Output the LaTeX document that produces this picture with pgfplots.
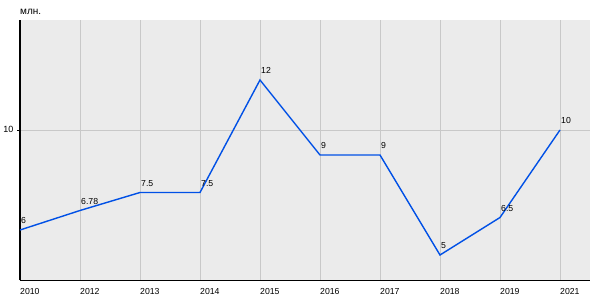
\documentclass[border=0pt]{standalone}
\usepackage{pgfplots}
\pgfplotsset{compat=1.18}
\usepackage{fontspec}
\setmainfont{Liberation Sans}
\definecolor{bgc}{RGB}{235,235,235}
\definecolor{gridc}{RGB}{200,200,200}
\definecolor{linec}{RGB}{0,80,230}
\begin{document}
\begin{tikzpicture}
\begin{axis}[
  name=ax,
  at={(0,0)}, anchor=south west,
  scale only axis,
  width=570pt, height=260pt,
  xmin=0, xmax=9.5,
  ymin=4, ymax=14.4,
  axis x line*=bottom,
  axis y line*=left,
  axis line style={black, line width=1pt, -},
  axis background/.style={fill=bgc},
  xtick={0,1,2,3,4,5,6,7,8,9},
  xticklabels={2010,2012,2013,2014,2015,2016,2017,2018,2019,2021},
  ytick={10},
  yticklabels={10},
  xmajorgrids, ymajorgrids,
  grid style={gridc, line width=0.9pt},
  x tick style={draw=none},
  y tick style={black, line width=0.8pt},
  major tick length=2.5pt,
  tick align=outside,
  xticklabel style={anchor=base west, inner sep=0pt, yshift=-12pt, font=\fontsize{8.7}{10}\selectfont},
  yticklabel style={anchor=base east, inner sep=0pt, xshift=-4pt, yshift=-2pt, font=\fontsize{9}{10}\selectfont},
  clip=false,
  nodes near coords,
  point meta=explicit symbolic,
  every node near coord/.append style={anchor=base west, inner sep=0pt, yshift=6.5pt, xshift=0.5pt, font=\fontsize{8.7}{10}\selectfont, text=black},
]
\addplot[linec, line width=1.4pt, mark=none] table[meta=lab] {
x y lab
0 6 6
1 6.78 6.78
2 7.5 7.5
3 7.5 7.5
4 12 12
5 9 9
6 9 9
7 5 5
8 6.5 6.5
9 10 10
};
\end{axis}
\node[anchor=base west, inner sep=0pt, font=\fontsize{10}{12}\selectfont] at ([yshift=5pt]ax.north west) {млн.};
\path[use as bounding box] ([xshift=-20pt,yshift=-20pt]ax.south west) rectangle ([xshift=10pt,yshift=20pt]ax.north east);
\end{tikzpicture}
\end{document}
